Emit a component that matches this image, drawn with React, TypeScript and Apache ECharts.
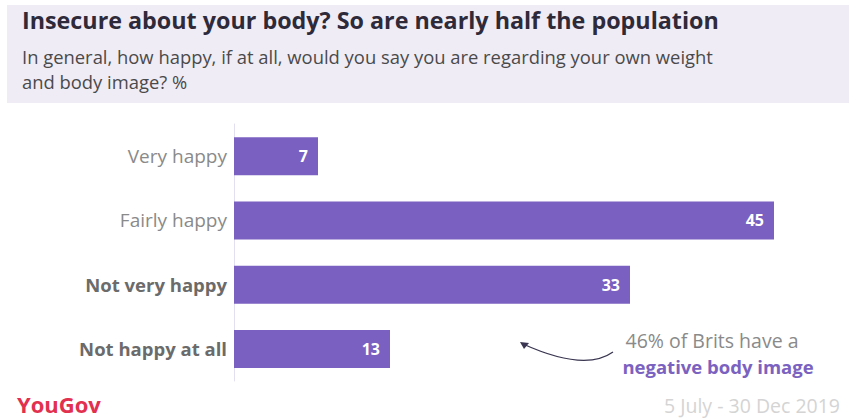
import React, { useEffect, useRef } from "react";
import * as echarts from "echarts";

const categories = ["Very happy", "Fairly happy", "Not very happy", "Not happy at all"];
const values = [7, 45, 33, 13];
const boldCats = ["Not very happy", "Not happy at all"];

const FONT = "'Open Sans', Lato, sans-serif";
const PURPLE = "#7a60c1";

export default function App() {
  const ref = useRef<HTMLDivElement>(null);
  useEffect(() => {
    const chart = echarts.init(ref.current!, null, { renderer: "svg" });
    chart.setOption({
      animation: false,
      backgroundColor: "#ffffff",
      textStyle: { fontFamily: FONT },
      grid: { left: 234, right: 15, top: 124, bottom: 39 },
      xAxis: {
        type: "value",
        min: 0,
        max: 50,
        show: false,
      },
      yAxis: {
        type: "category",
        inverse: true,
        data: categories,
        axisTick: { show: false },
        axisLine: { show: true, lineStyle: { color: "#e2dff0", width: 1 } },
        axisLabel: {
          margin: 7,
          fontFamily: FONT,
          formatter: (v: string) => (boldCats.includes(v) ? `{b|${v}}` : `{n|${v}}`),
          rich: {
            n: { fontSize: 19, color: "#8a8a8a", fontFamily: FONT },
            b: { fontSize: 18.5, color: "#6b6b6b", fontWeight: "bold", fontFamily: FONT },
          },
        },
      },
      series: [
        {
          type: "bar",
          data: values,
          barWidth: 38,
          itemStyle: { color: PURPLE },
          label: {
            show: true,
            position: "insideRight",
            distance: 10,
            color: "#ffffff",
            fontWeight: "bold",
            fontSize: 16,
            fontFamily: FONT,
          },
        },
      ],
      graphic: [
        {
          type: "rect",
          shape: { x: 7, y: 5, width: 842, height: 98 },
          style: { fill: "#f0ecf6" },
          z: -1,
        },
        {
          type: "text",
          x: 22,
          y: 8,
          style: {
            text: "Insecure about your body? So are nearly half the population",
            fontSize: 23.3,
            fontWeight: "bold",
            fill: "#2e2a3a",
            fontFamily: FONT,
          },
        },
        {
          type: "text",
          x: 22,
          y: 44,
          style: {
            text: "In general, how happy, if at all, would you say you are regarding your own weight\nand body image? %",
            fontSize: 18.4,
            lineHeight: 25,
            fill: "#4a4a4a",
            fontFamily: FONT,
          },
        },
        {
          type: "text",
          x: 712,
          y: 340,
          style: {
            text: "46% of Brits have a",
            fontSize: 19.5,
            fill: "#8a8a8a",
            align: "center",
            verticalAlign: "middle",
            fontFamily: FONT,
          },
        },
        {
          type: "text",
          x: 718,
          y: 366,
          style: {
            text: "negative body image",
            fontSize: 18.5,
            fontWeight: "bold",
            fill: "#7b62c0",
            align: "center",
            verticalAlign: "middle",
            fontFamily: FONT,
          },
        },
        {
          type: "bezierCurve",
          shape: { x1: 613, y1: 352, x2: 523, y2: 344, cpx1: 585, cpy1: 372 },
          style: { stroke: "#3a3550", lineWidth: 1.3, fill: "none" },
        },
        {
          type: "polygon",
          shape: { points: [[520, 342], [529, 343], [524, 349]] },
          style: { fill: "#3a3550" },
        },
        {
          type: "text",
          x: 17,
          y: 404,
          style: {
            text: "YouGov",
            fontSize: 22,
            fontWeight: "bold",
            fill: "#e2304f",
            verticalAlign: "middle",
            fontFamily: FONT,
          },
        },
        {
          type: "text",
          x: 840,
          y: 405,
          style: {
            text: "5 July - 30 Dec 2019",
            fontSize: 19.5,
            fill: "#d4d4d4",
            align: "right",
            verticalAlign: "middle",
            fontFamily: FONT,
          },
        },
      ],
    });
    return () => chart.dispose();
  }, []);
  return (
    <div
      ref={ref}
      style={{ position: "absolute", left: 0, top: 0, width: 849, height: 420 }}
    />
  );
}
